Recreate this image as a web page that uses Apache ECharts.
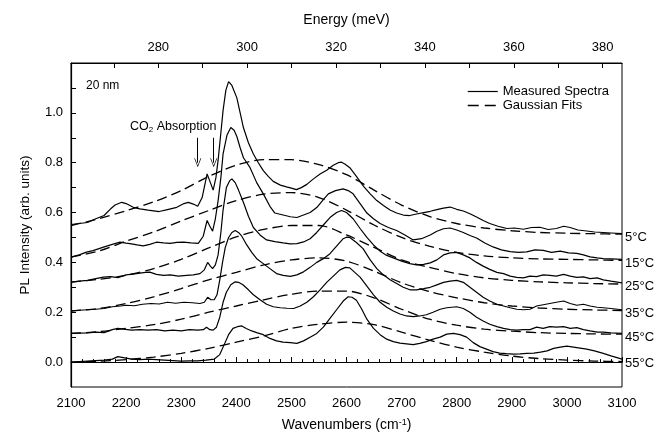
<!DOCTYPE html>
<html>
<head>
<meta charset="utf-8">
<title>PL spectra vs temperature</title>
<script src="https://cdn.jsdelivr.net/npm/echarts@6/dist/echarts.min.js"></script>
<style>
  html, body { margin: 0; padding: 0; background: #fff; }
  #chart { width: 662px; height: 439px; }
</style>
</head>
<body>
<div id="chart"></div>
<script>
var temps = ['5°C', '15°C', '25°C', '35°C', '45°C', '55°C'];

// measured spectra, [wavenumber cm-1, PL intensity]
var spec5 = [[2100,.552],[2115,.556],[2130,.560],[2145,.575],[2160,.588],[2172,.615],[2180,.630],[2192,.641],[2200,.636],[2213,.621],[2225,.615],[2240,.610],[2260,.604],[2275,.612],[2292,.621],[2305,.636],[2313,.641],[2322,.634],[2330,.625],[2338,.66],[2347,.755],[2353,.72],[2358,.69],[2363,.74],[2367,.81],[2372,.92],[2376,1.01],[2381,1.09],[2386,1.125],[2392,1.11],[2401,1.06],[2407,1.00],[2413,.94],[2422,.88],[2431,.835],[2440,.80],[2449,.768],[2458,.745],[2467,.725],[2480,.71],[2491,.703],[2500,.698],[2509,.692],[2518,.70],[2528,.713],[2540,.735],[2552,.755],[2564,.77],[2576,.79],[2585,.80],[2591,.802],[2597,.795],[2606,.78],[2618,.745],[2631,.705],[2643,.675],[2655,.648],[2667,.628],[2679,.61],[2691,.598],[2703,.59],[2715,.588],[2727,.594],[2740,.60],[2752,.605],[2764,.612],[2776,.618],[2788,.622],[2800,.613],[2812,.606],[2824,.595],[2836,.582],[2848,.568],[2860,.556],[2875,.545],[2891,.536],[2905,.538],[2921,.533],[2936,.540],[2951,.541],[2966,.532],[2981,.536],[2994,.545],[3006,.540],[3020,.530],[3036,.526],[3050,.522],[3066,.520],[3080,.518],[3100,.515]];
var spec15 = [[2100,.421],[2115,.43],[2128,.441],[2140,.447],[2159,.461],[2175,.472],[2189,.481],[2200,.477],[2207,.475],[2220,.47],[2231,.466],[2243,.472],[2255,.481],[2268,.478],[2280,.476],[2292,.48],[2304,.481],[2318,.478],[2331,.476],[2340,.505],[2347,.568],[2352,.545],[2357,.525],[2362,.575],[2367,.648],[2372,.74],[2376,.835],[2383,.91],[2390,.941],[2396,.93],[2401,.905],[2407,.86],[2413,.82],[2425,.78],[2437,.72],[2449,.675],[2461,.625],[2470,.598],[2485,.59],[2498,.583],[2510,.58],[2522,.59],[2534,.60],[2546,.62],[2558,.652],[2567,.675],[2580,.688],[2594,.695],[2603,.688],[2612,.675],[2625,.635],[2637,.598],[2649,.575],[2661,.556],[2676,.54],[2691,.528],[2706,.51],[2721,.49],[2736,.495],[2752,.51],[2764,.525],[2776,.535],[2788,.538],[2800,.53],[2812,.52],[2824,.508],[2836,.498],[2851,.478],[2866,.462],[2881,.45],[2897,.443],[2912,.44],[2927,.442],[2942,.45],[2957,.448],[2972,.44],[2988,.445],[3003,.438],[3018,.436],[3030,.43],[3042,.422],[3055,.418],[3066,.415],[3080,.414],[3100,.412]];
var spec25 = [[2100,.321],[2115,.325],[2130,.328],[2145,.335],[2159,.341],[2172,.343],[2185,.339],[2200,.35],[2219,.355],[2235,.36],[2243,.361],[2255,.352],[2268,.348],[2280,.35],[2295,.345],[2310,.348],[2322,.35],[2334,.355],[2342,.37],[2348,.40],[2353,.385],[2357,.375],[2362,.39],[2367,.43],[2372,.52],[2376,.61],[2382,.70],[2388,.728],[2392,.735],[2398,.72],[2404,.69],[2413,.64],[2422,.585],[2431,.54],[2443,.51],[2455,.49],[2470,.483],[2485,.478],[2498,.474],[2510,.475],[2522,.482],[2534,.495],[2546,.52],[2558,.55],[2570,.58],[2582,.60],[2591,.608],[2600,.60],[2612,.575],[2625,.535],[2637,.50],[2649,.47],[2661,.445],[2673,.428],[2685,.418],[2700,.405],[2715,.395],[2727,.39],[2740,.392],[2752,.398],[2764,.41],[2776,.43],[2788,.438],[2800,.44],[2812,.43],[2824,.418],[2836,.40],[2848,.385],[2860,.372],[2873,.36],[2885,.355],[2897,.345],[2909,.34],[2921,.338],[2933,.345],[2945,.343],[2957,.35],[2969,.348],[2981,.345],[2994,.352],[3006,.345],[3018,.34],[3030,.342],[3042,.335],[3055,.338],[3066,.33],[3080,.325],[3100,.318]];
var spec35 = [[2100,.205],[2115,.208],[2130,.21],[2145,.212],[2160,.215],[2175,.222],[2190,.225],[2200,.228],[2215,.226],[2230,.232],[2245,.235],[2260,.233],[2275,.24],[2290,.236],[2305,.24],[2320,.238],[2334,.235],[2342,.24],[2348,.26],[2354,.25],[2360,.25],[2365,.27],[2370,.33],[2375,.40],[2380,.46],[2386,.50],[2392,.52],[2398,.528],[2404,.52],[2410,.505],[2419,.47],[2428,.44],[2437,.415],[2449,.395],[2461,.375],[2473,.355],[2485,.348],[2498,.344],[2510,.35],[2522,.362],[2534,.38],[2546,.40],[2558,.415],[2570,.435],[2582,.465],[2594,.495],[2600,.501],[2606,.50],[2618,.48],[2630,.455],[2643,.41],[2655,.375],[2667,.35],[2679,.33],[2691,.315],[2703,.30],[2715,.29],[2727,.29],[2740,.295],[2752,.30],[2764,.31],[2776,.32],[2788,.325],[2800,.328],[2812,.32],[2824,.30],[2836,.28],[2848,.26],[2860,.245],[2873,.232],[2885,.225],[2897,.218],[2909,.212],[2921,.21],[2933,.212],[2945,.225],[2957,.23],[2969,.235],[2981,.24],[2994,.245],[3006,.235],[3018,.228],[3030,.232],[3042,.225],[3055,.22],[3066,.218],[3080,.215],[3100,.21]];
var spec45 = [[2100,.115],[2115,.116],[2130,.117],[2145,.12],[2160,.118],[2175,.13],[2185,.135],[2195,.132],[2210,.128],[2225,.13],[2240,.128],[2255,.13],[2270,.125],[2285,.128],[2300,.125],[2315,.13],[2330,.128],[2340,.13],[2346,.14],[2352,.13],[2358,.128],[2364,.14],[2370,.18],[2376,.24],[2382,.28],[2390,.31],[2398,.322],[2404,.32],[2412,.31],[2422,.29],[2431,.27],[2443,.25],[2455,.232],[2467,.222],[2480,.218],[2492,.216],[2504,.215],[2516,.225],[2528,.24],[2540,.262],[2552,.29],[2564,.32],[2576,.345],[2588,.37],[2598,.38],[2606,.378],[2615,.36],[2625,.34],[2637,.305],[2649,.27],[2661,.24],[2673,.22],[2685,.205],[2697,.193],[2709,.185],[2721,.182],[2733,.185],[2745,.19],[2757,.20],[2770,.212],[2782,.218],[2800,.222],[2812,.215],[2824,.20],[2836,.18],[2848,.165],[2860,.152],[2873,.142],[2885,.135],[2897,.13],[2909,.128],[2921,.13],[2933,.13],[2945,.14],[2957,.135],[2969,.142],[2981,.14],[2994,.142],[3006,.135],[3018,.138],[3030,.13],[3042,.125],[3055,.12],[3066,.12],[3080,.117],[3100,.115]];
var spec55 = [[2100,0],[2115,.002],[2130,.004],[2145,.006],[2160,.008],[2175,.012],[2185,.022],[2195,.018],[2210,.012],[2225,.01],[2240,.012],[2255,.01],[2270,.008],[2285,.006],[2300,.004],[2315,.005],[2330,.005],[2345,.008],[2360,.012],[2370,.03],[2378,.07],[2386,.11],[2394,.135],[2402,.142],[2410,.145],[2418,.135],[2428,.125],[2437,.118],[2449,.11],[2461,.095],[2473,.085],[2485,.08],[2498,.078],[2510,.075],[2522,.085],[2534,.10],[2546,.115],[2558,.14],[2570,.175],[2582,.21],[2594,.245],[2603,.262],[2610,.26],[2618,.248],[2627,.215],[2637,.172],[2649,.135],[2661,.11],[2673,.092],[2685,.082],[2697,.076],[2709,.073],[2721,.07],[2733,.075],[2745,.082],[2757,.092],[2770,.10],[2782,.112],[2794,.115],[2806,.11],[2818,.10],[2830,.078],[2842,.062],[2854,.052],[2866,.042],[2878,.036],[2890,.034],[2903,.032],[2915,.033],[2927,.035],[2940,.036],[2952,.04],[2964,.045],[2976,.055],[2988,.06],[3000,.064],[3012,.06],[3024,.056],[3036,.052],[3050,.045],[3066,.035],[3080,.025],[3100,.012]];

// gaussian fits, read every 50 cm-1
var fitX = [2100, 2150, 2200, 2250, 2300, 2350, 2400, 2450, 2500, 2550, 2600, 2650, 2700, 2750, 2800, 2850, 2900, 2950, 3000, 3050, 3100];
var fit5  = [.548, .575, .607, .643, .688, .745, .790, .812, .812, .792, .752, .690, .630, .585, .556, .538, .527, .520, .517, .515, .513];
var fit15 = [.421, .445, .485, .522, .566, .608, .648, .674, .680, .660, .610, .550, .500, .465, .440, .426, .418, .414, .412, .410, .408];
var fit25 = [.321, .332, .348, .375, .412, .458, .502, .532, .548, .548, .510, .460, .410, .380, .355, .338, .328, .322, .318, .315, .313];
var fit35 = [.205, .215, .235, .262, .295, .330, .360, .390, .410, .418, .405, .365, .318, .283, .258, .238, .225, .217, .212, .209, .207];
var fit45 = [.115, .122, .135, .150, .172, .200, .225, .250, .272, .285, .285, .258, .212, .172, .148, .132, .124, .118, .115, .113, .112];
var fit55 = [0, .003, .010, .020, .035, .055, .080, .105, .135, .152, .160, .150, .120, .088, .060, .040, .024, .014, .008, .004, .002];

var energyLabels = [280, 300, 320, 340, 360, 380];
var energyTicks = [270, 280, 290, 300, 310, 320, 330, 340, 350, 360, 370, 380];
var yLabels = [0, 0.2, 0.4, 0.6, 0.8, 1.0];
var yTicks = [0, 0.1, 0.2, 0.3, 0.4, 0.5, 0.6, 0.7, 0.8, 0.9, 1.0, 1.1];
var co2Marks = [2330, 2359];

var MEV_PER_CM = 0.123984;
var FONT = '"Liberation Sans", Arial, sans-serif';
var FIT_DASH = [10, 5];

var specs = [spec5, spec15, spec25, spec35, spec45, spec55];
var fits = [fit5, fit15, fit25, fit35, fit45, fit55];

var chart = echarts.init(document.getElementById('chart'));

var series = [];
specs.forEach(function(d, i) {
	var s = {
		name: 'Measured Spectra',
		type: 'line',
		data: d,
		symbol: 'none',
		z: 3,
		itemStyle: { color: '#000' },
		lineStyle: { color: '#000', width: 1.2 },
		endLabel: {
			show: true,
			formatter: temps[i],
			color: '#000',
			fontFamily: FONT,
			fontSize: 13,
			distance: 3,
			offset: [0, 4]
		}
	};
	// arrows for the CO2 dips, drawn on the top spectrum
	if (i === 0) {
		s.markLine = {
			silent: true,
			symbol: ['none', 'path://M0,10 L5,0 L10,10 L9,10 L5,2 L1,10 Z'],
			symbolSize: [7, 9],
			label: { show: false },
			lineStyle: { color: '#000', width: 1, type: 'solid' },
			data: co2Marks.map(function(k) {
				return [{ coord: [k, 0.9] }, { coord: [k, 0.8] }];
			})
		};
	}
	series.push(s);
});
fits.forEach(function(f) {
	series.push({
		name: 'Gaussian Fits',
		type: 'line',
		data: fitX.map(function(x, j) { return [x, f[j]]; }),
		symbol: 'none',
		smooth: 0.3,
		z: 2,
		itemStyle: { color: '#000' },
		lineStyle: { color: '#000', width: 1.3, type: FIT_DASH }
	});
});

var option = {
	animation: false,
	backgroundColor: '#fff',
	textStyle: { fontFamily: FONT },
	grid: { left: 71, right: 40, top: 63, bottom: 52, show: true, borderColor: '#000', borderWidth: 1 },
	legend: {
		data: [
			{ name: 'Measured Spectra', lineStyle: { color: '#000', width: 1.2, type: 'solid' } },
			{ name: 'Gaussian Fits', lineStyle: { color: '#000', width: 1.5, type: [11, 6] } }
		],
		orient: 'vertical',
		left: 467,
		top: 85,
		padding: 0,
		itemGap: 1,
		itemWidth: 30,
		itemHeight: 14,
		selectedMode: false,
		itemStyle: { opacity: 0 },
		textStyle: { fontFamily: FONT, fontSize: 13, color: '#000' }
	},
	xAxis: [{
		type: 'value',
		min: 2100,
		max: 3100,
		interval: 100,
		name: 'Wavenumbers (cm{sup|-1})',
		nameLocation: 'middle',
		nameGap: 31,
		nameTextStyle: {
			fontFamily: FONT, fontSize: 14, color: '#000',
			rich: { sup: { fontSize: 9, verticalAlign: 'top', padding: [0, 0, 6, 0] } }
		},
		axisLine: { lineStyle: { color: '#000', width: 1.2 } },
		axisTick: { inside: true, length: 5, lineStyle: { color: '#000' } },
		minorTick: { show: true, splitNumber: 5, length: 3, lineStyle: { color: '#000' } },
		axisLabel: {
			fontFamily: FONT, fontSize: 13, color: '#000', margin: 10,
			formatter: function(v) { return String(v); }
		},
		splitLine: { show: false }
	}, {
		type: 'value',
		position: 'top',
		min: 2100 * MEV_PER_CM,
		max: 3100 * MEV_PER_CM,
		name: 'Energy (meV)',
		nameLocation: 'middle',
		nameGap: 36,
		nameTextStyle: { fontFamily: FONT, fontSize: 14, color: '#000' },
		axisLine: { lineStyle: { color: '#000', width: 1.2 } },
		axisTick: { inside: true, length: 5, customValues: energyTicks, lineStyle: { color: '#000' } },
		axisLabel: {
			fontFamily: FONT, fontSize: 13, color: '#000', margin: 9,
			customValues: energyLabels,
			formatter: function(v) { return String(Math.round(v)); }
		},
		splitLine: { show: false }
	}],
	yAxis: {
		type: 'value',
		min: -0.1,
		max: 1.2,
		name: 'PL Intensity (arb. units)',
		nameLocation: 'middle',
		nameGap: 39,
		nameTextStyle: { fontFamily: FONT, fontSize: 13.5, color: '#000' },
		axisLine: { lineStyle: { color: '#000', width: 1.2 } },
		axisTick: { inside: true, length: 5, customValues: yTicks, lineStyle: { color: '#000' } },
		axisLabel: {
			fontFamily: FONT, fontSize: 13, color: '#000', margin: 8,
			customValues: yLabels,
			formatter: function(v) { return v.toFixed(1); }
		},
		splitLine: { show: false }
	},
	graphic: [{
		type: 'text',
		left: 86,
		top: 80,
		style: { text: '20 nm', fontFamily: FONT, fontSize: 12, fill: '#000' }
	}, {
		type: 'text',
		left: 130,
		top: 120,
		style: {
			text: 'CO{sub|2} Absorption',
			fontFamily: FONT,
			fontSize: 12.5,
			fill: '#000',
			rich: { sub: { fontSize: 8, verticalAlign: 'bottom', padding: [6, 0, 0, 0] } }
		}
	}],
	series: series
};

chart.setOption(option);
</script>
</body>
</html>
